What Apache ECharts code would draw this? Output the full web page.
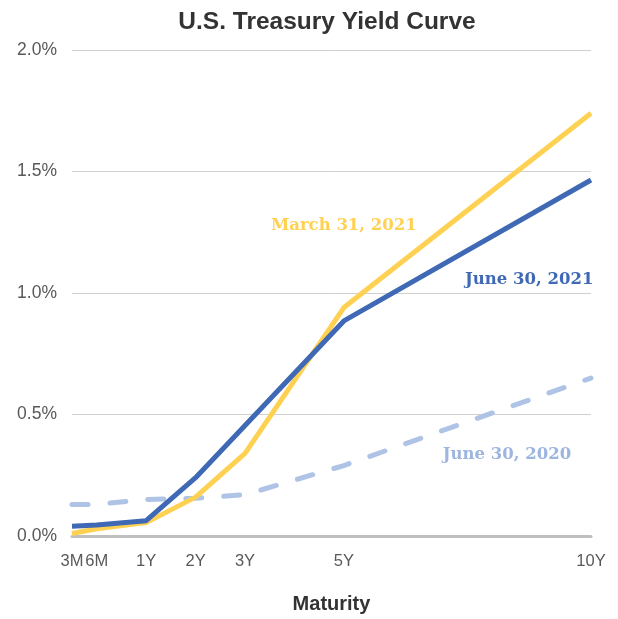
<!DOCTYPE html>
<html>
<head>
<meta charset="utf-8">
<script src="https://cdn.jsdelivr.net/npm/echarts@6/dist/echarts.min.js"></script>
<style>html,body{margin:0;padding:0;background:#fff;overflow:hidden}#c{width:618px;height:100vh}</style>
</head>
<body>
<div id="c"></div>
<script>
// Maturities and their positions on the horizontal axis
const maturities = ['3M', '6M', '1Y', '2Y', '3Y', '5Y', '10Y'];
const maturityPos = [-0.5, 0, 1, 2, 3, 5, 10];
// Yields (%)
const june2020 = [0.13, 0.13, 0.15, 0.155, 0.17, 0.29, 0.65];
const march2021 = [0.01, 0.03, 0.055, 0.16, 0.34, 0.94, 1.74];
const june2021 = [0.04, 0.045, 0.063, 0.24, 0.455, 0.885, 1.465];
const yTicks = [0, 0.5, 1.0, 1.5, 2.0];

const posLabel = {};
maturityPos.forEach((p, i) => posLabel[p] = maturities[i]);
const pts = arr => arr.map((v, i) => [maturityPos[i], v]);

const el = document.getElementById('c');
const chart = echarts.init(el);
const labelFont = { fontFamily: 'DejaVu Serif', fontWeight: 'bold', fontSize: 16.5 };
function tag(text, color, coord) {
  return {
    symbol: 'rect', symbolSize: 0, silent: true,
    data: [{ coord: coord, value: text }],
    label: Object.assign({ show: true, position: 'inside', color: color, formatter: text }, labelFont)
  };
}
chart.setOption({
  animation: false,
  title: {
    text: 'U.S. Treasury Yield Curve', left: 322, textAlign: 'center', top: 5,
    textStyle: { fontFamily: 'Liberation Sans', fontWeight: 'bold', fontSize: 24.5, color: '#333' }
  },
  grid: { left: 72, right: 27, top: 50, height: 495 },
  xAxis: {
    type: 'value', min: -0.5, max: 10, interval: 0.5,
    name: 'Maturity', nameLocation: 'middle', nameGap: 58,
    nameTextStyle: { fontFamily: 'Liberation Sans', fontWeight: 'bold', fontSize: 20, color: '#333' },
    axisLine: { show: true, lineStyle: { color: '#BFBFBF', width: 3 } },
    axisTick: { show: false },
    splitLine: { show: false },
    axisLabel: {
      margin: 17, fontFamily: 'Liberation Sans', fontSize: 16.5, color: '#595959',
      formatter: v => posLabel[v] || '', showMinLabel: true, showMaxLabel: true
    }
  },
  yAxis: {
    type: 'value', min: yTicks[0], max: yTicks[yTicks.length - 1], interval: 0.5,
    axisLine: { show: false }, axisTick: { show: false },
    splitLine: { lineStyle: { color: '#D0D0D0', width: 1 } },
    axisLabel: { margin: 15, fontFamily: 'Liberation Sans', fontSize: 17.5, color: '#595959',
      formatter: v => v.toFixed(1) + '%' }
  },
  series: [
    {
      name: 'June 30, 2020', type: 'line', data: pts(june2020), symbol: 'none',
      lineStyle: { color: '#AEC3E5', width: 5, type: [16, 22], cap: 'round' },
      markPoint: tag('June 30, 2020', '#9DB6E0', [8.3, 0.335])
    },
    {
      name: 'March 31, 2021', type: 'line', data: pts(march2021), symbol: 'none',
      lineStyle: { color: '#FFD152', width: 5 },
      markPoint: tag('March 31, 2021', '#FFD152', [5.0, 1.276])
    },
    {
      name: 'June 30, 2021', type: 'line', data: pts(june2021), symbol: 'none',
      lineStyle: { color: '#3F69B4', width: 5 },
      markPoint: tag('June 30, 2021', '#3F69B4', [8.75, 1.055])
    }
  ]
});
</script>
</body>
</html>
